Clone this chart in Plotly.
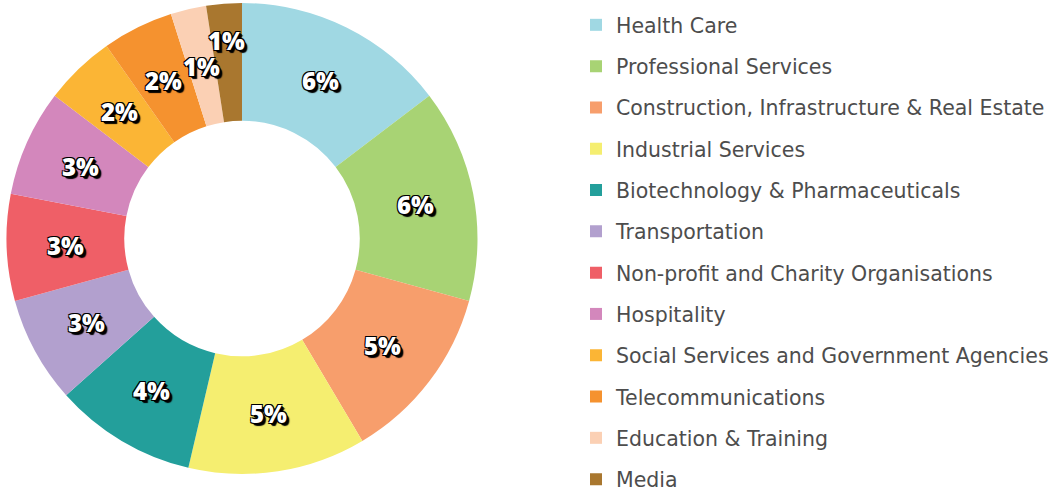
import math
import plotly.graph_objects as go

categories = [
    "Health Care",
    "Professional Services",
    "Construction, Infrastructure & Real Estate",
    "Industrial Services",
    "Biotechnology & Pharmaceuticals",
    "Transportation",
    "Non-profit and Charity Organisations",
    "Hospitality",
    "Social Services and Government Agencies",
    "Telecommunications",
    "Education & Training",
    "Media",
]
values = [6, 6, 5, 5, 4, 3, 3, 3, 2, 2, 1, 1]
colors = [
    "#A0D8E3", "#A8D374", "#F79E6C", "#F5EE70", "#239F9B", "#B2A0CE",
    "#EF5F67", "#D387BC", "#FBB535", "#F5922F", "#FBD0B4", "#A9772F",
]
text_labels = [f"{v}%" for v in values]

W, H = 1057, 491
dom_x = [6 / W, 478 / W]
dom_y = [1 - 474 / H, 1 - 3 / H]
HOLE = 0.5
LEG_X = 576 / W
LEG_TOP = 25      # centre of first legend row, px from top
LEG_STEP = 41.3   # row pitch, px

fig = go.Figure()
fig.add_trace(go.Pie(
    labels=categories,
    values=values,
    textinfo="none",
    sort=False,
    direction="clockwise",
    rotation=0,
    hole=HOLE,
    marker=dict(colors=colors, line=dict(width=0)),
    domain=dict(x=dom_x, y=dom_y),
    showlegend=False,
    hoverinfo="label+percent",
))

# legend entries: one small legend per category so row pitch matches
legend_layout = {}
for i, (cat, col) in enumerate(zip(categories, colors)):
    key = "legend" if i == 0 else f"legend{i + 1}"
    fig.add_trace(go.Scatter(
        x=[None], y=[None], mode="markers", name=cat, legend=key,
        marker=dict(symbol="square", size=12, color=col),
        hoverinfo="skip",
    ))
    legend_layout[key] = dict(
        x=LEG_X, y=1 - (LEG_TOP + i * LEG_STEP) / H,
        xanchor="left", yanchor="middle",
        font=dict(family="DejaVu Sans", size=20.5, color="#4d4d4d"),
        bgcolor="rgba(0,0,0,0)", borderwidth=0,
    )

# slice labels at mid-ring radius, derived from the pie's own geometry
cx_px = (dom_x[0] + dom_x[1]) / 2 * W
cy_px = (dom_y[0] + dom_y[1]) / 2 * H
R = min((dom_x[1] - dom_x[0]) * W, (dom_y[1] - dom_y[0]) * H) / 2
r_lab = R * (1 + HOLE) / 2
total = sum(values)
cum = 0
shadow = ("-1px -1px 0 black, 1px -1px 0 black, -1px 1px 0 black, 1px 1px 0 black, "
          "2px 2px 0 black, 3px 3px 1px black")
prev = None
for v, t in zip(values, text_labels):
    mid = (cum + v / 2) / total * 2 * math.pi
    cum += v
    r = r_lab
    px = cx_px + r * math.sin(mid)
    py = cy_px + r * math.cos(mid)
    # simple collision avoidance: push outward if too close to previous label
    while prev is not None and math.hypot(px - prev[0], py - prev[1]) < 36 and r < R:
        r += 1
        px = cx_px + r * math.sin(mid)
        py = cy_px + r * math.cos(mid)
    prev = (px, py)
    fig.add_annotation(
        x=px / W, y=py / H, xref="paper", yref="paper", text=t,
        showarrow=False, xanchor="center", yanchor="middle",
        font=dict(family="Open Sans", size=24, color="white", weight=800,
                  shadow=shadow),
    )

fig.update_layout(
    width=W, height=H,
    margin=dict(l=0, r=0, t=0, b=0, autoexpand=False),
    paper_bgcolor="white",
    plot_bgcolor="white",
    xaxis=dict(visible=False),
    yaxis=dict(visible=False),
    **legend_layout,
)

fig.write_html("out.html", post_script="document.body.style.margin='0px';",
               config={"displayModeBar": False})
